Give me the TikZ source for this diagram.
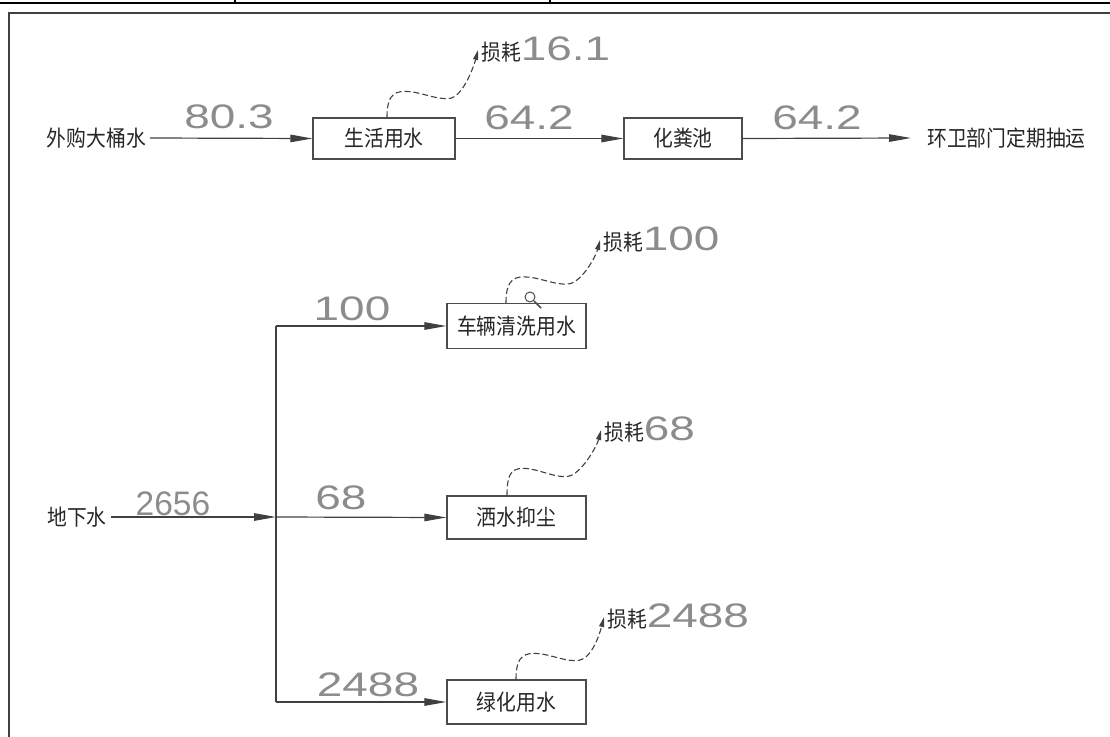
\documentclass[tikz,border=0pt]{standalone}
\usepackage{fontspec}
\newfontfamily\cjk[FakeStretch=0.9]{Noto Sans CJK SC}
\newfontfamily\numf[FakeStretch=1.35]{Liberation Sans}
\usetikzlibrary{arrows.meta,calc}
\newcommand{\cjkf}{\cjk\fontsize{22}{22}\selectfont}
\newcommand{\numsz}{\numf\fontsize{34}{34}\selectfont}
\newcommand{\losstext}[1]{{\cjkf\color{black!85}损耗}{\numsz\color{black!45}#1}}
\begin{document}
\begin{tikzpicture}[x=1pt,y=-1pt,
  box/.style={draw=black!70,line width=1.3pt,minimum height=41pt,inner sep=0pt,font=\cjkf,text=black!85},
  cn/.style={inner sep=0pt,font=\cjkf,text=black!85},
  num/.style={inner sep=0pt,anchor=base,font=\numsz,text=black!45},
  flow/.style={draw=black!75,line width=1.2pt,-{Triangle[length=22pt,width=7.5pt]}},
  pipe/.style={draw=black!75,line width=1.2pt},
  loss/.style={draw=black!75,line width=1.1pt,dash pattern=on 6pt off 3pt,-{Triangle[length=10pt,width=5pt]}},
  losslbl/.style={inner sep=0pt,anchor=west},
  frame/.style={line width=2.5pt}
]
\useasboundingbox (0,0) rectangle (1110,736);
\clip (0,0) rectangle (1110,736);
% frame
\draw[frame,black] (0,3) -- (1110,3);
\draw[black,line width=1.2pt] (235,0) -- (235,3) (550,0) -- (550,3);
\draw[frame,black!75] (1120,13) -- (9,13) -- (9,750);

% top row
\node[cn,anchor=east] (src) at (146,138) {外购大桶水};
\node[box,minimum width=142pt] (b0) at (384,138.5) {生活用水};
\node[box,minimum width=118pt] (b4) at (683,138.5) {化粪池};
\node[cn,anchor=west] (dst) at (927,138) {环卫部门定期抽运};
\draw[flow] ([xshift=4pt]src.east) -- (b0.west);
\draw[flow] (b0.east) -- (b4.west);
\draw[flow] (b4.east) -- ([xshift=-16pt]dst.west);
\node[num] (n1) at (229,128) {80.3};
\node[num] (n2) at (529,129) {64.2};
\node[num] (n3) at (817,129) {64.2};
\node[losslbl] (L0) at (481,50) {\losstext{16.1}};
\draw[loss] ([xshift=3pt]b0.north) .. controls +(0,-19) and +(-13,0) .. ++(18,-26)
   .. controls +(15,0) and +(-13,2) .. ++(45,7)
   .. controls +(13,-2) and +(-4,16) .. ([xshift=-3pt]L0.west);

% bottom part
\node[cn] (gw) at (77,517) {地下水};
\coordinate (j) at (276,517);
\coordinate (j1) at (276,326);
\coordinate (j3) at (276,702);
\node[box,minimum width=139pt,minimum height=45pt] (b1) at (516.5,326) {车辆清洗用水};
\node[box,minimum width=139pt,minimum height=43pt] (b2) at (516.5,517.5) {洒水抑尘};
\node[box,minimum width=139pt,minimum height=44pt] (b3) at (516.5,702) {绿化用水};
\draw[flow] ([xshift=4pt]gw.east) -- (j);
\draw[pipe] (j1) -- (j3);
\draw[flow] (j1) -- (b1.west);
\draw[flow] (j) -- (b2.west);
\draw[flow] (j3) -- (b3.west);
\node[num] (n4) at (173,515) {\scalebox{0.73}[1]{2656}};
\node[num] (n5) at (352,320) {100};
\node[num] (n6) at (341,509) {68};
\node[num] (n7) at (368,696) {2488};

\node[losslbl] (L1) at (603,240) {\losstext{100}};
\node[losslbl] (L2) at (604,430) {\losstext{68}};
\node[losslbl] (L3) at (607,617) {\losstext{2488}};
\draw[loss] ([xshift=-10.5pt]b1.north) .. controls +(0,-19) and +(-13,0) .. ++(18,-26)
   .. controls +(15,0) and +(-13,2) .. ++(45,7)
   .. controls +(13,-2) and +(-4,16) .. ([xshift=-3pt]L1.west);
\draw[loss] ([xshift=-9.5pt]b2.north) .. controls +(0,-19) and +(-13,0) .. ++(16,-27)
   .. controls +(15,0) and +(-13,2) .. ++(45,8)
   .. controls +(13,-2) and +(-4,16) .. ([xshift=-3pt]L2.west);
\draw[loss] ([xshift=-0.5pt]b3.north) .. controls +(0,-19) and +(-13,0) .. ++(18,-26)
   .. controls +(15,0) and +(-13,2) .. ++(45,7)
   .. controls +(13,-2) and +(-4,16) .. ([xshift=-3pt]L3.west);
% small magnifier mark
\draw[black!70,line width=1pt] (530,297) circle (5pt);
\draw[black!70,line width=1.5pt] (534,301) -- (541,308);
\end{tikzpicture}
\end{document}
